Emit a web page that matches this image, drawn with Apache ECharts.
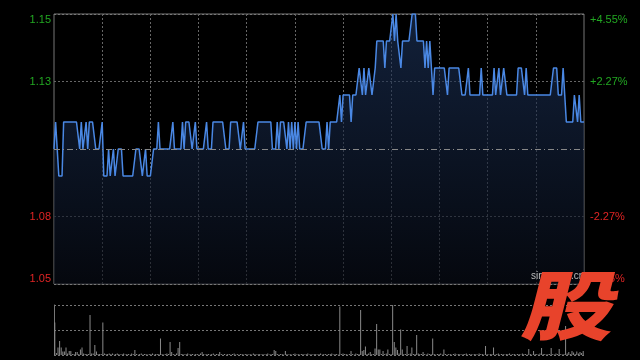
<!DOCTYPE html>
<html>
<head>
<meta charset="utf-8">
<script src="https://cdn.jsdelivr.net/npm/echarts@6/dist/echarts.min.js"></script>
<style>
  html, body { margin: 0; padding: 0; background: #000; }
  #chart { width: 640px; height: 360px; }
</style>
</head>
<body>
<div id="chart"></div>
<script>
const prevClose = 1.10;
const priceTicks = ['1.05', '1.08', '', '1.13', '1.15'];
const pctTicks = ['-4.55%', '-2.27%', '', '+2.27%', '+4.55%'];

// one price per minute, 09:30 .. 16:00
const prices = [
  1.10,1.11,1.10,1.09,1.09,1.09,1.11,1.11,1.11,1.11,1.11,1.11,1.11,1.11,1.11,1.11,1.10,1.11,1.10,1.10,
  1.11,1.10,1.11,1.11,1.11,1.11,1.10,1.10,1.10,1.10,1.11,1.09,1.09,1.09,1.10,1.09,1.09,1.10,1.09,1.09,
  1.10,1.10,1.10,1.09,1.09,1.09,1.09,1.09,1.09,1.09,1.09,1.10,1.10,1.10,1.10,1.09,1.09,1.10,1.09,1.09,
  1.09,1.09,1.10,1.10,1.10,1.11,1.10,1.10,1.10,1.10,1.10,1.10,1.10,1.10,1.11,1.10,1.10,1.10,1.10,1.10,
  1.11,1.10,1.11,1.11,1.11,1.11,1.10,1.10,1.11,1.10,1.10,1.10,1.10,1.10,1.10,1.11,1.10,1.10,1.10,1.11,
  1.11,1.11,1.11,1.11,1.11,1.11,1.11,1.10,1.10,1.10,1.11,1.11,1.11,1.11,1.11,1.11,1.10,1.10,1.11,1.10,
  1.10,1.10,1.10,1.10,1.10,1.10,1.10,1.11,1.11,1.11,1.11,1.11,1.11,1.11,1.11,1.11,1.10,1.10,1.10,1.11,
  1.10,1.11,1.11,1.11,1.11,1.10,1.11,1.10,1.11,1.10,1.11,1.10,1.11,1.10,1.10,1.10,1.10,1.11,1.11,1.11,
  1.11,1.11,1.11,1.11,1.11,1.11,1.11,1.10,1.10,1.10,1.11,1.10,1.11,1.11,1.11,1.11,1.11,1.11,1.12,1.11,
  1.12,1.12,1.12,1.12,1.12,1.11,1.12,1.12,1.12,1.12,1.13,1.13,1.12,1.13,1.12,1.12,1.13,1.13,1.12,1.12,
  1.13,1.14,1.14,1.14,1.14,1.14,1.13,1.14,1.14,1.14,1.14,1.15,1.14,1.15,1.14,1.14,1.13,1.14,1.14,1.14,
  1.14,1.14,1.14,1.15,1.15,1.15,1.14,1.14,1.14,1.14,1.14,1.13,1.14,1.13,1.14,1.13,1.12,1.13,1.13,1.13,
  1.13,1.13,1.13,1.13,1.13,1.12,1.13,1.13,1.13,1.13,1.13,1.13,1.13,1.13,1.12,1.12,1.12,1.12,1.13,1.12,
  1.12,1.12,1.12,1.12,1.12,1.12,1.13,1.12,1.12,1.12,1.12,1.12,1.12,1.12,1.13,1.12,1.12,1.13,1.12,1.12,
  1.13,1.13,1.12,1.12,1.12,1.12,1.12,1.12,1.12,1.13,1.13,1.13,1.13,1.12,1.13,1.12,1.12,1.12,1.12,1.12,
  1.12,1.12,1.12,1.12,1.12,1.12,1.12,1.12,1.12,1.12,1.12,1.13,1.13,1.13,1.12,1.12,1.12,1.13,1.12,1.11,
  1.11,1.11,1.11,1.11,1.12,1.12,1.11,1.12,1.11,1.11,1.11
];

// volume per minute, relative (axis top = 100)
const volumes = [
  65,4,15,28,15,7,7,15,3,8,8,2,2,6,6,2,11,15,3,2,
  2,2,80,3,3,20,7,2,2,2,65,3,2,2,3,2,3,1,2,3,
  2,1,2,3,1,2,2,1,3,2,10,2,1,2,3,1,2,2,1,2,
  2,3,1,2,2,2,33,2,1,2,3,2,26,6,2,1,3,14,26,2,
  2,1,2,3,1,2,2,1,2,2,1,3,6,2,1,2,2,1,2,3,
  1,2,2,6,2,1,2,1,2,2,1,2,3,1,2,1,2,2,1,2,
  2,1,2,1,3,2,1,2,2,1,2,1,2,3,1,2,2,10,8,2,
  1,2,2,1,8,2,1,2,1,2,3,1,2,1,2,2,1,2,3,1,
  2,1,2,2,1,2,3,1,2,2,1,2,2,3,1,2,2,1,97,2,
  3,2,2,1,2,8,2,1,3,2,2,90,8,10,17,2,3,6,2,2,
  13,62,11,11,2,8,2,3,11,2,2,100,26,15,10,3,51,11,2,2,
  18,2,3,15,2,2,40,3,2,2,6,2,1,3,2,2,33,2,1,2,
  2,3,1,11,2,1,2,2,1,2,3,1,2,2,1,2,2,3,1,2,
  2,1,2,2,1,3,2,2,1,18,2,1,2,2,15,1,2,3,1,2,
  2,1,2,2,3,1,2,2,1,2,2,1,3,2,2,1,12,2,1,8,
  2,2,1,3,14,2,2,1,2,2,14,2,1,3,2,12,2,1,2,58,
  3,6,2,8,5,2,7,3,6,4,8
];

const minutes = prices.map((p, i) => i);

const chart = echarts.init(document.getElementById('chart'));

const tickIndex = v => Math.round((v - 1.05) / 0.025);
const labelColor = v => (v > prevClose ? '#22a822' : '#e02424');

const option = {
  backgroundColor: '#000',
  animation: false,
  grid: [
    { left: 54, top: 14, width: 530, height: 270, show: true, borderColor: '#777', borderWidth: 1, backgroundColor: 'transparent' },
    { left: 54, top: 305, width: 530, height: 50 }
  ],
  xAxis: [
    {
      type: 'category', gridIndex: 0, data: minutes, boundaryGap: false,
      axisLine: { show: false }, axisTick: { show: false }, axisLabel: { show: false },
      splitLine: {
        show: true,
        interval: (i) => i % 30 === 0 && i > 0 && i < 330,
        lineStyle: { color: '#666', type: [2, 2], width: 1 }
      }
    },
    {
      type: 'category', gridIndex: 1, data: minutes, boundaryGap: true,
      axisLine: { show: false }, axisTick: { show: false }, axisLabel: { show: false },
      splitLine: { show: false }
    }
  ],
  yAxis: [
    {
      type: 'value', gridIndex: 0, min: 1.05, max: 1.15, interval: 0.025,
      axisLine: { show: false }, axisTick: { show: false },
      axisLabel: {
        margin: 3, fontSize: 11, fontFamily: 'Liberation Sans, Arial, sans-serif',
        formatter: v => priceTicks[tickIndex(v)],
        color: labelColor,
        verticalAlignMinLabel: 'bottom', verticalAlignMaxLabel: 'top'
      },
      splitLine: {
        lineStyle: { color: ['#777', '#666', 'rgba(0,0,0,0)', '#666', '#777'], type: [2, 2], width: 1 }
      }
    },
    {
      type: 'value', gridIndex: 0, min: 1.05, max: 1.15, interval: 0.025, position: 'right',
      axisLine: { show: false }, axisTick: { show: false }, splitLine: { show: false },
      axisLabel: {
        margin: 6, fontSize: 11, fontFamily: 'Liberation Sans, Arial, sans-serif',
        formatter: v => pctTicks[tickIndex(v)],
        color: labelColor,
        verticalAlignMinLabel: 'bottom', verticalAlignMaxLabel: 'top'
      }
    },
    {
      type: 'value', gridIndex: 1, min: 0, max: 100, interval: 50,
      axisLine: { show: true, lineStyle: { color: '#777' } }, axisTick: { show: false }, axisLabel: { show: false },
      splitLine: { lineStyle: { color: '#777', type: [2, 2], width: 1 } }
    }
  ],
  series: [
    {
      type: 'line', xAxisIndex: 0, yAxisIndex: 0, data: prices,
      symbol: 'none', smooth: false,
      lineStyle: { color: '#4a88e4', width: 1.5 },
      areaStyle: {
        color: new echarts.graphic.LinearGradient(0, 0, 0, 1, [
          { offset: 0, color: 'rgba(30, 54, 96, 0.85)' },
          { offset: 1, color: 'rgba(8, 12, 22, 0.9)' }
        ])
      },
      markLine: {
        silent: true, symbol: 'none', label: { show: false },
        lineStyle: { color: '#888', type: [6, 3, 1, 3], width: 1 },
        data: [{ yAxis: prevClose }]
      }
    },
    {
      type: 'bar', xAxisIndex: 1, yAxisIndex: 2, data: volumes,
      barWidth: 1, itemStyle: { color: '#8a8a8a' }
    }
  ],
  graphic: [
    {
      type: 'text', left: 531, top: 271, z: 10,
      style: { text: 'sina.com.cn', fill: '#bbb', fontSize: 10, fontFamily: 'Liberation Sans, Arial, sans-serif' }
    },
    {
      type: 'text', x: 573, y: 305, z: 20,
      scaleX: 1.07, scaleY: 0.88, skewX: -0.25,
      style: {
        text: '股', fill: '#e8432b', fontSize: 86, fontWeight: 900,
        fontFamily: 'Noto Sans CJK SC', align: 'center', verticalAlign: 'middle'
      }
    }
  ]
};

chart.setOption(option);
</script>
</body>
</html>
